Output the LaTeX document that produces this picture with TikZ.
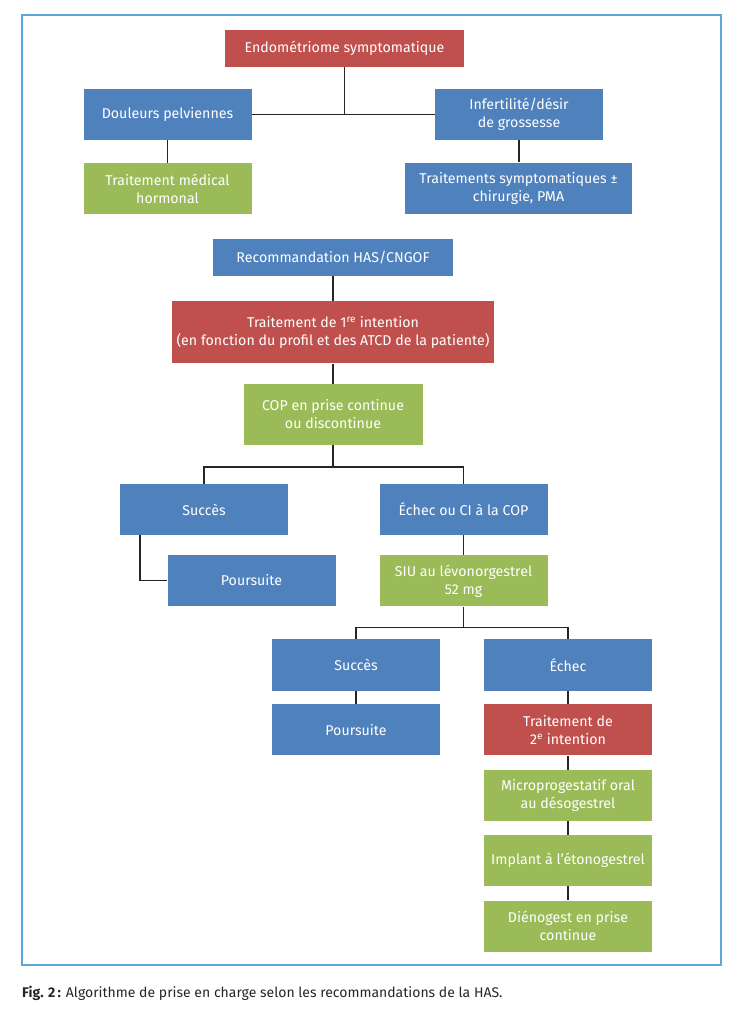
\documentclass[tikz,border=0pt]{standalone}
\usepackage{fontspec}
\setmainfont{Fira Sans}
\usetikzlibrary{positioning}
\definecolor{RougeBrique}{RGB}{192,80,77}
\definecolor{BleuAcier}{RGB}{79,129,189}
\definecolor{VertOlive}{RGB}{155,187,89}
\definecolor{BleuCadre}{RGB}{91,166,218}
\tikzset{
  boite/.style={fill=#1, text=white, align=center, minimum width=168pt,
    minimum height=51pt, font=\fontsize{14.2}{18}\selectfont, inner sep=2pt},
  boite/.default=BleuAcier,
  lien/.style={line width=1.4pt, black!85},
  cadre/.style={draw=BleuCadre, line width=2pt},
}
\begin{document}
\begin{tikzpicture}[x=1pt, y=-1pt]
  \useasboundingbox (0,0) rectangle (740,1018);
  \draw[cadre] (22,15) rectangle (721,965);
  % ---- point de depart ----
  \node[boite=RougeBrique, minimum width=239pt, minimum height=37pt] (endo) at (344.5,48.5) {Endométriome symptomatique};
  \node[boite] (doul) at (167.5,114.5) {Douleurs pelviennes};
  \node[boite] (infert) at (519,114.5) {Infertilité/désir\\ de grossesse};
  \node[boite=VertOlive, below=23pt of doul] (tmh) {Traitement médical\\ hormonal};
  \node[boite, minimum width=227pt] (tsym) at (518.5,188) {Traitements symptomatiques ±\\ chirurgie, PMA};
  \draw[lien] (endo.south) -- (endo.south |- doul.east);
  \draw[lien] (doul.east) -- (infert.west);
  \draw[lien] (doul) -- (tmh);
  \draw[lien] (infert.south) -- (infert.south |- tsym.north);
  % ---- recommandation ----
  \node[boite, minimum width=240pt, minimum height=37pt] (reco) at (333,257.5) {Recommandation HAS/CNGOF};
  \node[boite=RougeBrique, minimum width=322pt, minimum height=62pt, below=25pt of reco] (trt1) {Traitement de 1\textsuperscript{re} intention\\ (en fonction du profil et des ATCD de la patiente)};
  \node[boite=VertOlive, minimum width=179pt, minimum height=61pt, below=20pt of trt1] (cop) {COP en prise continue\\ ou discontinue};
  \draw[lien] (reco) -- (trt1);
  \draw[lien] (trt1) -- (cop);
  % ---- premiere intention ----
  \coordinate[below=22pt of cop.south] (bifA);
  \node[boite] (succA) at (204,509.5) {Succès};
  \node[boite] (echecA) at (463.5,509.5) {Échec ou CI à la COP};
  \node[boite] (poursA) at (251.5,580.5) {Poursuite};
  \node[boite=VertOlive, below=20pt of echecA] (siu) {SIU au lévonorgestrel\\ 52 mg};
  \draw[lien] (cop) -- (bifA);
  \draw[lien] (succA.north) |- (bifA) -| (echecA.north);
  \draw[lien] ([xshift=20pt]succA.south west) |- (poursA.west);
  \draw[lien] (echecA) -- (siu);
  % ---- SIU puis deuxieme intention ----
  \coordinate[below=21pt of siu.south] (bifB);
  \node[boite, minimum height=52pt] (succB) at (356,665) {Succès};
  \node[boite, minimum height=52pt] (echecB) at (568,665) {Échec};
  \node[boite, below=13pt of succB] (poursB) {Poursuite};
  \node[boite=RougeBrique, below=13pt of echecB] (trt2) {Traitement de\\ 2\textsuperscript{e} intention};
  \node[boite=VertOlive, below=14pt of trt2] (micro) {Microprogestatif oral\\ au désogestrel};
  \node[boite=VertOlive, below=14pt of micro] (implant) {Implant à l’étonogestrel};
  \node[boite=VertOlive, below=14pt of implant] (dieno) {Diénogest en prise\\ continue};
  \draw[lien] (siu) -- (bifB);
  \draw[lien] (succB.north) |- (bifB) -| (echecB.north);
  \draw[lien] (succB) -- (poursB);
  \draw[lien] (echecB) -- (trt2);
  \draw[lien] (trt2) -- (micro);
  \draw[lien] (micro) -- (implant);
  \draw[lien] (implant) -- (dieno);
  % ---- legende ----
  \node[anchor=west, inner sep=0pt, font=\fontsize{14}{16}\selectfont, text=black!85] (legende) at (22,993) {\textbf{Fig. 2\,:} Algorithme de prise en charge selon les recommandations de la HAS.};
\end{tikzpicture}
\end{document}
